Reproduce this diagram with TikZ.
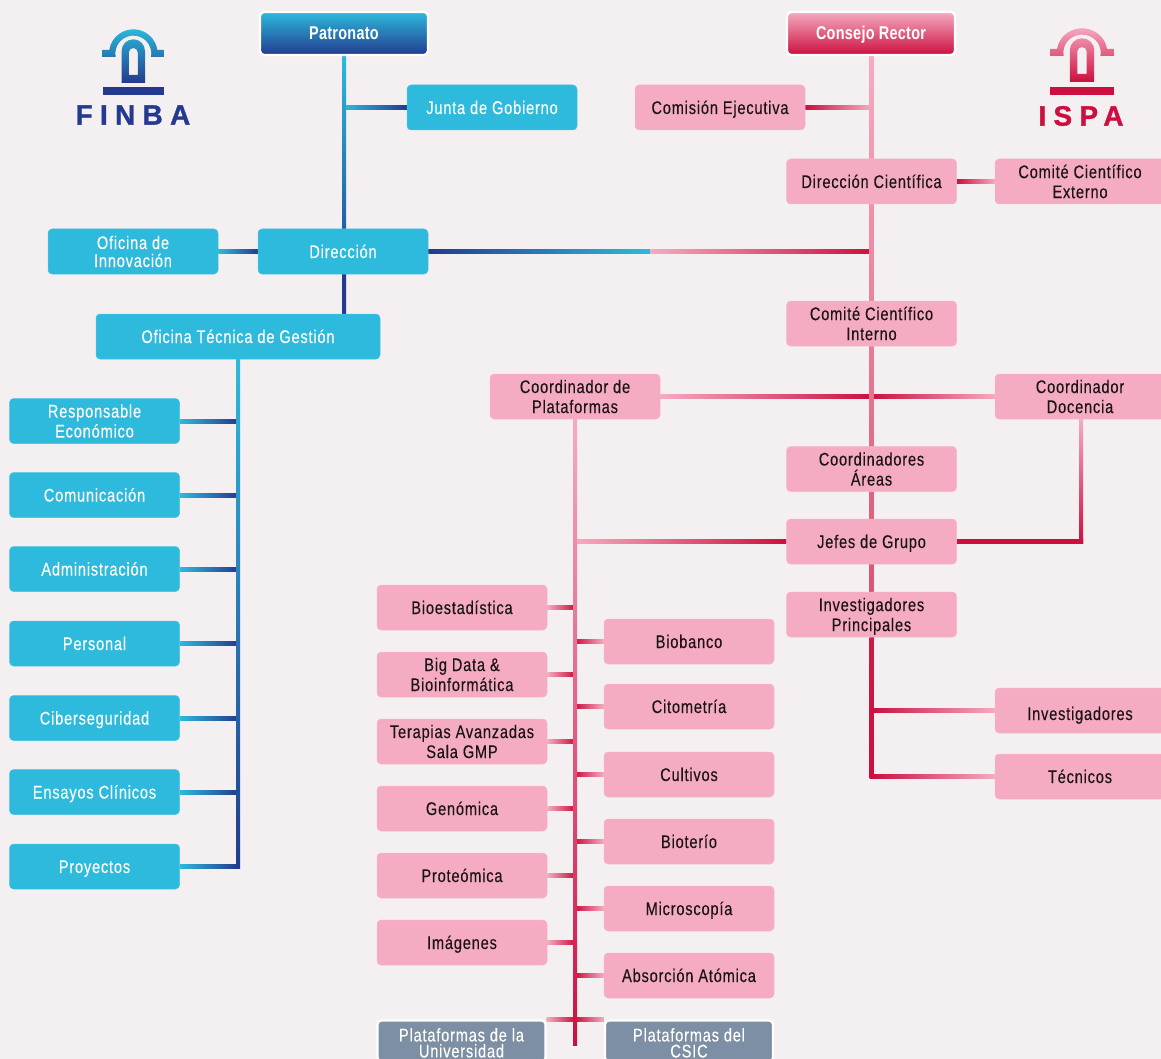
\documentclass[tikz,border=0pt]{standalone}
\usepackage{fontspec}
\setmainfont{Liberation Sans}
\newfontfamily\boxfont{Liberation Sans}[FakeStretch=0.8,LetterSpace=4.3,FakeBold=0.12]
\newfontfamily\headfont{Liberation Sans Bold}[FakeStretch=0.78,LetterSpace=1.5]
\newfontfamily\logofont{Liberation Sans Bold}[LetterSpace=26,FakeBold=1.2]
\usetikzlibrary{calc}
\definecolor{bgc}{HTML}{F4F0F2}
\definecolor{cyanb}{HTML}{2DBADC}
\definecolor{pinkb}{HTML}{F5ABC1}
\definecolor{greyb}{HTML}{7C8FA4}
\definecolor{navy}{HTML}{233A8E}
\definecolor{crim}{HTML}{CC0F3E}
\definecolor{midblue}{HTML}{1F5FA6}
\definecolor{midred}{HTML}{DB5571}
\definecolor{darkred}{HTML}{CA1E46}
\definecolor{txt}{HTML}{1A1416}
\pgfdeclarelayer{bgl}\pgfdeclarelayer{conl}
\pgfsetlayers{bgl,conl,main}
\tikzset{
 basebox/.style={rectangle,rounded corners=4pt,minimum width=170pt,minimum height=45pt,inner sep=0pt,align=center,font=\boxfont\fontsize{18.3}{20}\selectfont,execute at begin node={\rule{0pt}{15pt}}},
 blue/.style={basebox,fill=cyanb,draw=cyanb!85!white,line width=0.5pt,text=white},
 pink/.style={basebox,fill=pinkb,draw=pinkb!85!white,line width=0.5pt,text=txt},
 grey/.style={basebox,fill=greyb,draw=white,line width=2.2pt,text=white,minimum width=168pt,minimum height=41pt},
 headbox/.style={basebox,draw=white,line width=2.4pt,text=white,minimum width=168pt,minimum height=43pt,font=\headfont\fontsize{18.5}{20}\selectfont},
 one/.style={text height=13pt,text depth=0pt},
 conline/.style={line width=4pt},
 logotext/.style={inner sep=0pt,font=\logofont\fontsize{28}{28}\selectfont}
}
\newcommand{\hconn}[4]{\draw[conline,draw=#3!50!#4] (#1) -- (#2);\shade[left color=#3,right color=#4] ([yshift=2pt]#1) rectangle ([yshift=-2pt]#2);}
\newcommand{\vconn}[4]{\draw[conline,draw=#3!50!#4] (#1) -- (#2);\shade[top color=#3,bottom color=#4] ([xshift=-2pt]#1) rectangle ([xshift=2pt]#2);}
\newcommand{\archshape}{(-30.6,50) -- (-24,50) arc[start angle=188.5,end angle=351.5,radius=24.3] -- (30.6,50) -- (30.6,57) -- (17.7,57) arc[start angle=10.9,end angle=-190.9,radius=18] -- (-30.6,57) -- cycle
 (-11.7,83) -- (-11.7,51) arc[start angle=180,end angle=360,radius=11.7] -- (11.7,83) -- cycle
 (-4.5,75) -- (-4.5,52.5) arc[start angle=180,end angle=360,radius=4.5] -- (4.5,75) -- cycle}
\begin{document}
\begin{tikzpicture}[x=1pt,y=-1pt]
\begin{pgfonlayer}{bgl}
\fill[bgc] (0,0) rectangle (1161,1059);
\end{pgfonlayer}
\useasboundingbox (0,0) rectangle (1161,1059);
\clip (0,0) rectangle (1161,1059);
% logos
\begin{scope}[shift={(133.3,0)}]
 \shade[top color=cyanb,bottom color=navy,even odd rule] \archshape;
 \fill[navy] (-30.6,87) rectangle (30.6,95);
\end{scope}
\node[logotext,text=navy] (finba) at (133,115) {FINBA};
\begin{scope}[shift={(1082,-1)},xscale=1.04]
 \shade[top color=pinkb,bottom color=crim,even odd rule] \archshape;
 \fill[crim] (-30.6,88) rectangle (30.6,96);
\end{scope}
\node[logotext,text=crim] (ispa) at (1081,116) {ISPA};
% headers
\node[headbox,one,top color=cyanb,bottom color=navy] (pat) at (344,33.5) {Patronato};
\node[headbox,one,top color=pinkb,bottom color=crim] (con) at (871,33.5) {Consejo Rector};
% blue side
\node[blue,one] (junta) at (492,107.5) {Junta de Gobierno};
\node[blue,one] (dir) at (343,251.5) {Dirección};
\node[blue] (inno) at (133,251.5) {Oficina de\\[-2pt]Innovación};
\node[blue,one,minimum width=284pt] (otg) at (238,336.5) {Oficina Técnica de Gestión};
\node[blue] (resp) at (94.5,421) {Responsable\\Económico};
\node[blue,one] (comu) at (94.5,495) {Comunicación};
\node[blue,one] (admi) at (94.5,569) {Administración};
\node[blue,one] (pers) at (94.5,643.5) {Personal};
\node[blue,one] (cibe) at (94.5,718) {Ciberseguridad};
\node[blue,one] (ensa) at (94.5,792) {Ensayos Clínicos};
\node[blue,one] (proy) at (94.5,866.5) {Proyectos};
% pink side
\node[pink,one] (comi) at (720,107.5) {Comisión Ejecutiva};
\node[pink,one] (dirc) at (871.5,181.5) {Dirección Científica};
\node[pink] (exte) at (1080,181.5) {Comité Científico\\Externo};
\node[pink] (inte) at (871.5,323.5) {Comité Científico\\Interno};
\node[pink] (copl) at (575,396.5) {Coordinador de\\Plataformas};
\node[pink] (codo) at (1080,396.5) {Coordinador\\Docencia};
\node[pink] (area) at (871.5,469) {Coordinadores\\Áreas};
\node[pink,one] (jefe) at (871.5,541.5) {Jefes de Grupo};
\node[pink] (prin) at (871.5,614.5) {\rule{0pt}{17pt}Investigadores\\Principales};
\node[pink,one,text height=19pt] (inve) at (1080,710.5) {Investigadores};
\node[pink,one] (tecn) at (1080,776.5) {Técnicos};
\node[pink,one] (bioe) at (462,607.5) {Bioestadística};
\node[pink] (bigd) at (462,674.5) {Big Data \&\\Bioinformática};
\node[pink] (tera) at (462,741.5) {Terapias Avanzadas\\Sala GMP};
\node[pink,one] (geno) at (462,808.5) {Genómica};
\node[pink,one] (prot) at (462,875.5) {Proteómica};
\node[pink,one] (imag) at (462,942.5) {Imágenes};
\node[pink,one] (bioa) at (689,641.5) {Biobanco};
\node[pink,one] (cito) at (689,706.5) {Citometría};
\node[pink,one] (cult) at (689,774.5) {Cultivos};
\node[pink,one] (biot) at (689,841.5) {Bioterío};
\node[pink,one] (micr) at (689,908.5) {Microscopía};
\node[pink,one] (abso) at (689,975.5) {Absorción Atómica};
\node[grey] (puni) at (461.5,1041) {\rule{0pt}{17pt}Plataformas de la\\[-4pt]Universidad};
\node[grey] (pcsi) at (689,1041) {\rule{0pt}{17pt}Plataformas del\\[-4pt]CSIC};
% connector helper points
\coordinate (split) at (650,251.5);
\coordinate (bott) at (871.5,778.5);
\coordinate (elbow) at (1083,541);
\coordinate (elbowv) at (1081,543);
\coordinate (ltrunk) at (238,868);
\coordinate (mtrunk) at (575,1045);
\coordinate (gl) at (575,1019.7);
\begin{pgfonlayer}{conl}
% blue connectors
\hconn{pat.south |- junta.west}{junta.west}{cyanb}{navy}
\vconn{pat.south}{pat.south |- dir.north}{cyanb}{midblue}
\vconn{pat.south |- dir.south}{pat.south |- otg.north}{navy}{navy}
\hconn{inno.east}{dir.west}{cyanb}{navy}
\hconn{dir.east}{split}{navy}{cyanb}
\hconn{split}{dir.east -| dirc.south}{pinkb}{crim}
\foreach \n in {resp,comu,admi,pers,cibe,ensa,proy}{\hconn{\n.east}{\n.east -| ltrunk}{cyanb}{navy}}
\vconn{otg.south}{ltrunk}{cyanb}{navy}
% pink connectors
\hconn{comi.east}{comi.east -| con.south}{crim}{pinkb}
\hconn{dirc.east}{exte.west}{crim}{pinkb}
\hconn{copl.east}{copl.east -| dirc.south}{pinkb}{crim}
\hconn{copl.east -| dirc.south}{codo.west}{crim}{pinkb}
\hconn{jefe.west -| copl.south}{jefe.west}{pinkb}{crim}
\hconn{jefe.east}{elbow}{crim}{crim}
\vconn{codo.south -| elbowv}{elbowv}{pinkb}{crim}
\vconn{prin.south}{bott}{darkred}{crim}
\hconn{prin.south |- inve.west}{inve.west}{crim}{pinkb}
\hconn{prin.south |- tecn.west}{tecn.west}{crim}{pinkb}
\vconn{con.south}{prin.north}{pinkb}{midred}
\foreach \n in {bioe,bigd,tera,geno,prot,imag}{\hconn{\n.east}{\n.east -| mtrunk}{pinkb}{crim}}
\foreach \n in {bioa,cito,cult,biot,micr,abso}{\hconn{\n.west -| mtrunk}{\n.west}{crim}{pinkb}}
\hconn{puni.north east |- gl}{gl}{pinkb}{crim}
\hconn{gl}{pcsi.north west |- gl}{crim}{pinkb}
\vconn{copl.south}{mtrunk}{pinkb}{crim}
\end{pgfonlayer}
\end{tikzpicture}
\end{document}
